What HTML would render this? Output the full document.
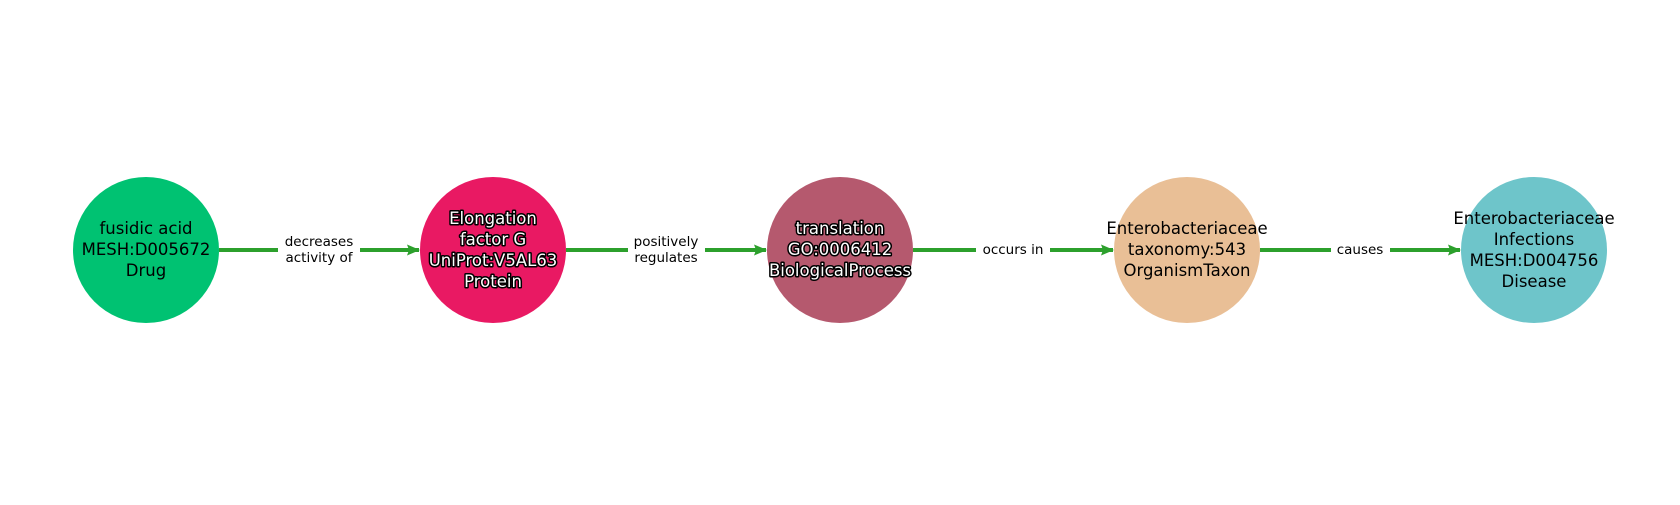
<!DOCTYPE html>
<html><head><meta charset="utf-8"><style>
html,body{margin:0;padding:0;background:#fff;}
svg text{font-family:"DejaVu Sans","Liberation Sans",sans-serif;}
</style></head><body>
<svg width="1680" height="500" viewBox="0 0 1680 500" xmlns="http://www.w3.org/2000/svg">
<defs>
<marker id="a" markerWidth="13" markerHeight="11" refX="12" refY="5.5" orient="auto" markerUnits="userSpaceOnUse">
<path d="M0,0 L13,5.5 L0,11 L2,5.5 Z" fill="#2ca02c"/>
</marker>
</defs>
<g stroke="#2ca02c" stroke-width="4" fill="none">
<line x1="219" y1="250" x2="278" y2="250"/><line x1="360" y1="250" x2="419" y2="250" marker-end="url(#a)"/>
<line x1="566" y1="250" x2="628" y2="250"/><line x1="705" y1="250" x2="766" y2="250" marker-end="url(#a)"/>
<line x1="913" y1="250" x2="976" y2="250"/><line x1="1050" y1="250" x2="1113" y2="250" marker-end="url(#a)"/>
<line x1="1260" y1="250" x2="1331" y2="250"/><line x1="1390" y1="250" x2="1460" y2="250" marker-end="url(#a)"/>
</g>
<circle cx="146" cy="250" r="73" fill="#00c272"/>
<circle cx="493" cy="250" r="73" fill="#e91963"/>
<circle cx="840" cy="250" r="73" fill="#b5596e"/>
<circle cx="1187" cy="250" r="73" fill="#e9bf96"/>
<circle cx="1534" cy="250" r="73" fill="#6ec5ca"/>
<g font-size="13.5" fill="#000" text-anchor="middle">
<text x="319" y="246">decreases</text><text x="319" y="262">activity of</text>
<text x="666" y="246">positively</text><text x="666" y="262">regulates</text>
<text x="1013" y="254">occurs in</text>
<text x="1360" y="254">causes</text>
</g>
<g font-size="16.5" text-anchor="middle" fill="#000">
<text x="146" y="234">fusidic acid</text><text x="146" y="255">MESH:D005672</text><text x="146" y="276">Drug</text>
<text x="1187" y="234">Enterobacteriaceae</text><text x="1187" y="255">taxonomy:543</text><text x="1187" y="276">OrganismTaxon</text>
<text x="1534" y="224">Enterobacteriaceae</text><text x="1534" y="245">Infections</text><text x="1534" y="266">MESH:D004756</text><text x="1534" y="287">Disease</text>
</g>
<g font-size="16.5" text-anchor="middle" fill="#fff" stroke="#000" stroke-width="3" paint-order="stroke" stroke-linejoin="round">
<text x="493" y="224">Elongation</text><text x="493" y="245">factor G</text><text x="493" y="266">UniProt:V5AL63</text><text x="493" y="287">Protein</text>
<text x="840" y="234">translation</text><text x="840" y="255">GO:0006412</text><text x="840" y="276">BiologicalProcess</text>
</g>
</svg>
</body></html>
